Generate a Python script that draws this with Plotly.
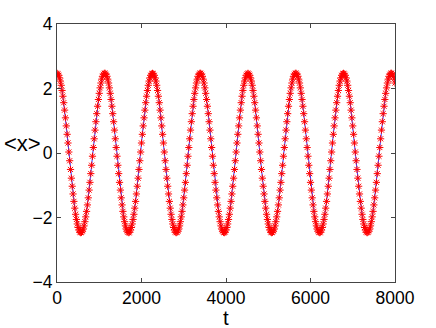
import plotly.graph_objects as go

# time samples (t = 0, 20, ..., 8000)
t_start = 0
t_step = 20
t_count = 401
t_values = [t_start + i * t_step for i in range(t_count)]

# <x>(t) values
x_mean = [
    2.47, 2.45, 2.41, 2.33, 2.23, 2.10, 1.94, 1.76, 1.56, 1.33, 1.09, 0.84, 0.58, 0.31, 0.03, -0.24, -0.51, -0.78, -1.03, -1.27,
    -1.50, -1.71, -1.90, -2.06, -2.20, -2.31, -2.39, -2.45, -2.47, -2.46, -2.42, -2.36, -2.26, -2.13, -1.98, -1.81, -1.61, -1.39, -1.15, -0.91,
    -0.64, -0.38, -0.10, 0.17, 0.44, 0.71, 0.97, 1.22, 1.45, 1.66, 1.85, 2.02, 2.17, 2.29, 2.38, 2.44, 2.47,
    2.47, 2.44, 2.38, 2.29, 2.17, 2.02, 1.85, 1.66, 1.45, 1.22, 0.97, 0.71, 0.44, 0.17, -0.10, -0.38, -0.64, -0.91, -1.15, -1.39,
    -1.61, -1.81, -1.98, -2.13, -2.26, -2.36, -2.42, -2.46, -2.47, -2.45, -2.39, -2.31, -2.20, -2.06, -1.90, -1.71, -1.50, -1.27, -1.03, -0.78,
    -0.51, -0.24, 0.03, 0.31, 0.58, 0.84, 1.09, 1.33, 1.56, 1.76, 1.94, 2.10, 2.23, 2.33, 2.41, 2.45,
    2.47, 2.45, 2.41, 2.33, 2.23, 2.10, 1.94, 1.76, 1.56, 1.33, 1.09, 0.84, 0.58, 0.31, 0.03, -0.24, -0.51, -0.78, -1.03, -1.27,
    -1.50, -1.71, -1.90, -2.06, -2.20, -2.31, -2.39, -2.45, -2.47, -2.46, -2.42, -2.36, -2.26, -2.13, -1.98, -1.81, -1.61, -1.39, -1.15, -0.91,
    -0.64, -0.38, -0.10, 0.17, 0.44, 0.71, 0.97, 1.22, 1.45, 1.66, 1.85, 2.02, 2.17, 2.29, 2.38, 2.44, 2.47,
    2.47, 2.44, 2.38, 2.29, 2.17, 2.02, 1.85, 1.66, 1.45, 1.22, 0.97, 0.71, 0.44, 0.17, -0.10, -0.38, -0.64, -0.91, -1.15, -1.39,
    -1.61, -1.81, -1.98, -2.13, -2.26, -2.36, -2.42, -2.46, -2.47, -2.45, -2.39, -2.31, -2.20, -2.06, -1.90, -1.71, -1.50, -1.27, -1.03, -0.78,
    -0.51, -0.24, 0.03, 0.31, 0.58, 0.84, 1.09, 1.33, 1.56, 1.76, 1.94, 2.10, 2.23, 2.33, 2.41, 2.45,
    2.47, 2.45, 2.41, 2.33, 2.23, 2.10, 1.94, 1.76, 1.56, 1.33, 1.09, 0.84, 0.58, 0.31, 0.03, -0.24, -0.51, -0.78, -1.03, -1.27,
    -1.50, -1.71, -1.90, -2.06, -2.20, -2.31, -2.39, -2.45, -2.47, -2.46, -2.42, -2.36, -2.26, -2.13, -1.98, -1.81, -1.61, -1.39, -1.15, -0.91,
    -0.64, -0.38, -0.10, 0.17, 0.44, 0.71, 0.97, 1.22, 1.45, 1.66, 1.85, 2.02, 2.17, 2.29, 2.38, 2.44, 2.47,
    2.47, 2.44, 2.38, 2.29, 2.17, 2.02, 1.85, 1.66, 1.45, 1.22, 0.97, 0.71, 0.44, 0.17, -0.10, -0.38, -0.64, -0.91, -1.15, -1.39,
    -1.61, -1.81, -1.98, -2.13, -2.26, -2.36, -2.42, -2.46, -2.47, -2.45, -2.39, -2.31, -2.20, -2.06, -1.90, -1.71, -1.50, -1.27, -1.03, -0.78,
    -0.51, -0.24, 0.03, 0.31, 0.58, 0.84, 1.09, 1.33, 1.56, 1.76, 1.94, 2.10, 2.23, 2.33, 2.41, 2.45,
    2.47, 2.45, 2.41, 2.33, 2.23, 2.10, 1.94, 1.76, 1.56, 1.33, 1.09, 0.84, 0.58, 0.31, 0.03, -0.24, -0.51, -0.78, -1.03, -1.27,
    -1.50, -1.71, -1.90, -2.06, -2.20, -2.31, -2.39, -2.45, -2.47, -2.46, -2.42, -2.36, -2.26, -2.13, -1.98, -1.81, -1.61, -1.39, -1.15, -0.91,
    -0.64, -0.38, -0.10, 0.17, 0.44, 0.71, 0.97, 1.22, 1.45, 1.66, 1.85, 2.02, 2.17, 2.29, 2.38, 2.44, 2.47,
    2.47, 2.44, 2.38, 2.29, 2.17,
]

x_ticks = [0, 2000, 4000, 6000, 8000]
y_ticks = [-4, -2, 0, 2, 4]

x_label = "t"
y_label = "&lt;x&gt;"

font_family = "Liberation Sans, Arial, Helvetica, sans-serif"

fig = go.Figure()
fig.add_trace(go.Scatter(
    x=t_values[:len(x_mean)],
    y=x_mean,
    mode="lines+markers",
    line=dict(color="#3333ff", width=1),
    marker=dict(symbol="asterisk-open", size=6, color="#ff0000",
                line=dict(color="#ff0000", width=1)),
    showlegend=False,
))

axis_common = dict(
    showgrid=False,
    zeroline=False,
    showline=True,
    linecolor="#444444",
    linewidth=1,
    mirror="ticks",
    ticks="inside",
    ticklen=4,
    tickwidth=1,
    tickcolor="#444444",
    tickfont=dict(family=font_family, size=17.5, color="#000000"),
)

fig.update_layout(
    width=436,
    height=328,
    margin=dict(l=57, r=41, t=24, b=46, autoexpand=False),
    paper_bgcolor="#ffffff",
    plot_bgcolor="#ffffff",
    xaxis=dict(range=[0, 8000], tickvals=x_ticks,
               ticktext=[str(v) for v in x_ticks], **axis_common),
    yaxis=dict(range=[-4, 4], tickvals=y_ticks,
               ticktext=[str(v).replace("-", "\u2212") for v in y_ticks], **axis_common),
    annotations=[
        dict(text=x_label, xref="paper", yref="paper", x=0.5, y=-0.1357,
             showarrow=False, font=dict(family=font_family, size=20.5, color="#000000"),
             xanchor="center", yanchor="middle"),
        dict(text=y_label, xref="paper", yref="paper", x=-0.1006, y=0.535,
             showarrow=False, font=dict(family=font_family, size=22, color="#000000"),
             xanchor="center", yanchor="middle"),
    ],
)

fig.write_html(
    "out.html",
    config={"displayModeBar": False},
    post_script="document.body.style.margin='0';document.body.style.overflow='hidden';",
)
